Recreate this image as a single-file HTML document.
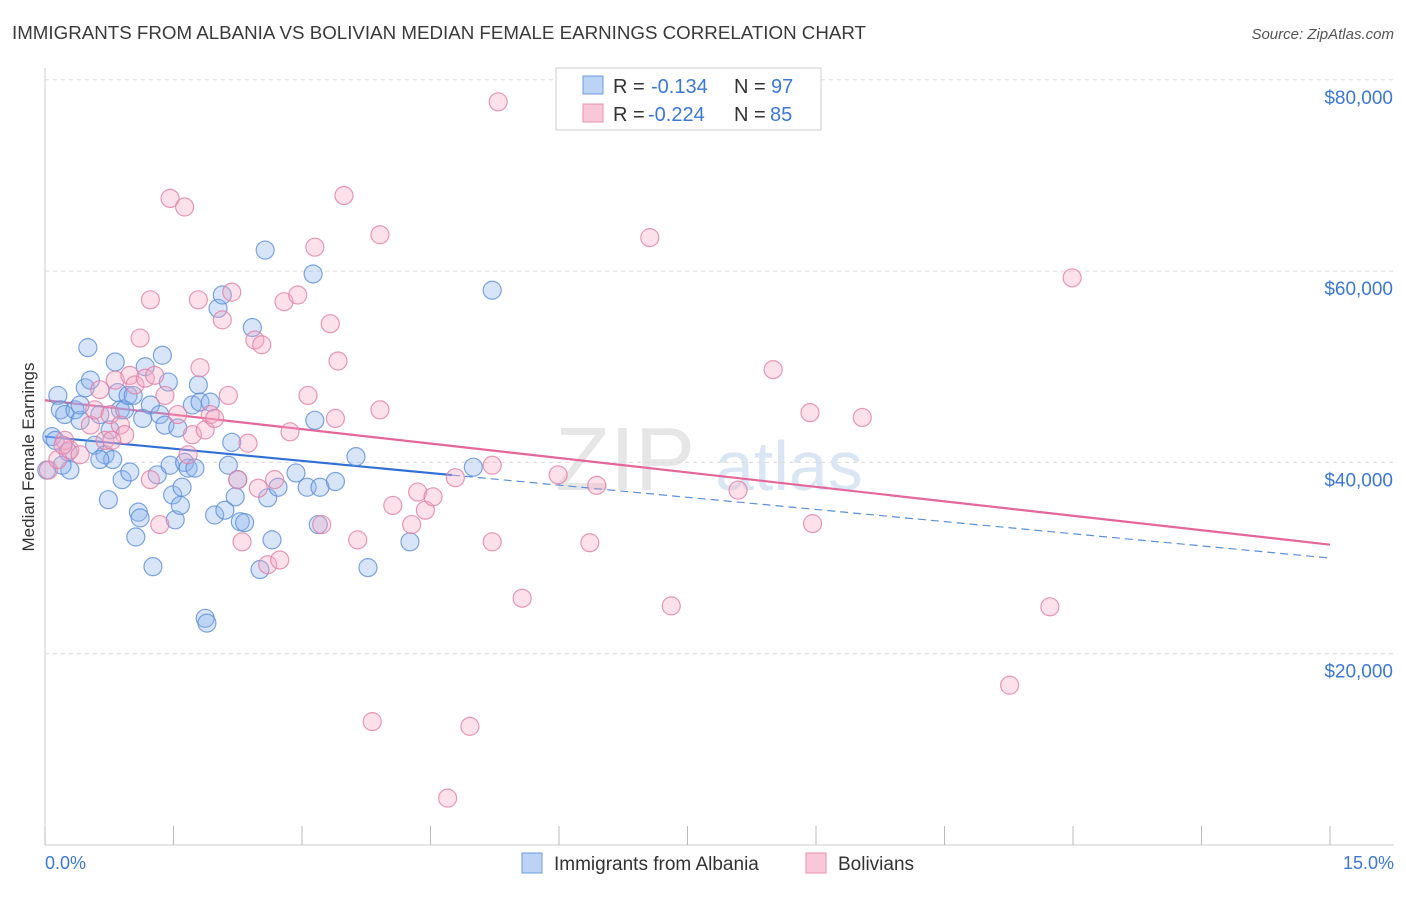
<!DOCTYPE html>
<html><head><meta charset="utf-8">
<style>
body{margin:0;background:#fff;font-family:"Liberation Sans",sans-serif;}
svg text{font-family:"Liberation Sans",sans-serif;}
</style></head>
<body>
<svg id="chart" width="1406" height="892" xmlns="http://www.w3.org/2000/svg">
<text x="12" y="39" font-size="18" fill="#3a3a3a" textLength="854" lengthAdjust="spacingAndGlyphs">IMMIGRANTS FROM ALBANIA VS BOLIVIAN MEDIAN FEMALE EARNINGS CORRELATION CHART</text>
<text x="1394" y="39" font-size="15" fill="#555" text-anchor="end" font-style="italic">Source: ZipAtlas.com</text>
<text x="555" y="490" font-size="90" fill="#e6e6e6" font-family="Liberation Serif">ZIP</text>
<text x="715" y="490" font-size="70" fill="#dbe6f4">atlas</text>
<g id="grid"></g>
<g id="axes"></g>
<g id="trends"></g>
<g id="points"></g>
<text transform="translate(34,457) rotate(-90)" font-size="17" fill="#333" text-anchor="middle">Median Female Earnings</text>
<text x="45" y="869" font-size="18" fill="#3b78d8">0.0%</text>
<text x="1394" y="869" font-size="18" fill="#3b78d8" text-anchor="end">15.0%</text>
<g>
<rect x="556" y="68" width="265" height="62" fill="#fff" stroke="#ccc"/>
<rect x="583" y="76" width="20" height="18" fill="#bcd3f5" stroke="#6d9be0"/>
<rect x="583" y="104" width="20" height="18" fill="#f9c8d8" stroke="#e890b0"/>
<text x="613" y="93" font-size="20" fill="#333">R =</text>
<text x="651" y="93" font-size="20" fill="#3b78d8">-0.134</text>
<text x="734" y="93" font-size="20" fill="#333">N =</text>
<text x="771" y="93" font-size="20" fill="#3b78d8">97</text>
<text x="613" y="121" font-size="20" fill="#333">R =</text>
<text x="648" y="121" font-size="20" fill="#3b78d8">-0.224</text>
<text x="734" y="121" font-size="20" fill="#333">N =</text>
<text x="770" y="121" font-size="20" fill="#3b78d8">85</text>
</g>
<g>
<rect x="522" y="853" width="20" height="20" fill="#bcd3f5" stroke="#6d9be0"/>
<text x="554" y="870" font-size="19" fill="#333">Immigrants from Albania</text>
<rect x="806" y="853" width="20" height="20" fill="#f9c8d8" stroke="#e890b0"/>
<text x="838" y="870" font-size="19" fill="#333">Bolivians</text>
</g>
</svg>
<script>
const yTicks=[20000,40000,60000,80000];
const yTickLabels=["$20,000","$40,000","$60,000","$80,000"];
const xTicks=[0,1.5,3,4.5,6,7.5,9,10.5,12,13.5,15];
const blueX=[0.15,0.18,0.08,0.12,0.23,0.29,0.20,0.35,0.41,0.47,0.50,0.53,0.58,0.64,0.70,0.74,0.76,0.79,0.82,0.85,0.88,0.90,0.93,0.97,0.99,1.03,1.06,1.09,1.11,1.14,1.17,1.23,1.26,1.31,1.34,1.37,1.40,1.44,1.46,1.49,1.52,1.55,1.58,1.60,1.63,1.67,1.72,1.75,1.79,1.81,1.87,1.89,1.93,1.98,2.02,2.07,2.10,2.14,2.18,2.22,2.25,2.28,2.33,2.42,2.51,2.57,2.60,2.65,2.72,2.93,3.06,3.13,3.15,3.19,3.21,3.39,3.63,3.77,4.26,5.00,5.22,0.41,0.27,0.64,0.02];
const blueY=[47.0,45.5,42.7,42.3,45.0,39.2,39.7,45.5,44.4,47.8,52.0,48.6,41.8,45.0,40.8,36.1,43.4,40.3,50.5,47.3,45.5,38.2,45.5,47.0,39.0,47.0,32.2,34.8,34.2,44.6,50.0,46.0,29.1,38.7,45.0,51.2,43.9,48.4,39.7,36.6,34.0,43.6,35.5,37.4,40.0,39.4,46.0,39.4,48.1,46.3,23.7,23.2,46.3,34.5,56.1,57.5,35.0,39.7,42.1,36.4,38.2,33.8,33.7,54.1,28.8,62.2,36.3,31.9,37.4,38.9,37.4,59.7,44.4,33.5,37.4,38.0,40.6,29.0,31.7,39.5,58.0,46.0,41.1,40.3,39.2];
const pinkX=[0.04,0.15,0.23,0.29,0.41,0.53,0.58,0.64,0.70,0.76,0.82,0.88,0.93,0.99,1.05,1.11,1.17,1.23,1.28,1.34,1.40,1.46,1.55,1.63,1.67,1.72,1.79,1.81,1.87,1.93,1.98,2.07,2.14,2.18,2.25,2.30,2.37,2.45,2.53,2.49,2.60,2.68,2.74,2.79,2.86,2.95,3.15,3.07,3.23,3.33,3.39,3.42,3.49,3.65,3.82,3.91,3.91,4.06,4.28,4.35,4.44,4.53,4.70,4.79,4.96,5.22,5.22,5.29,5.57,5.99,6.36,6.44,7.06,7.31,8.09,8.50,8.93,8.96,9.54,11.26,11.73,11.99,1.23,0.21,0.78];
const pinkY=[39.2,40.3,42.3,41.3,40.8,43.9,45.5,47.6,42.3,45.0,48.6,43.9,42.9,49.1,48.1,53.0,48.8,57.0,49.1,33.5,47.0,67.6,45.0,66.7,40.8,42.9,57.0,49.9,43.4,45.0,44.6,54.9,47.0,57.8,38.2,31.7,42.0,52.8,52.3,37.3,29.3,38.2,29.8,56.8,43.2,57.5,62.5,47.0,33.5,54.5,44.6,50.6,67.9,31.9,12.9,63.8,45.5,35.5,33.5,36.9,35.0,36.4,4.9,38.4,12.4,39.7,31.7,77.7,25.8,38.7,31.6,37.6,63.5,25.0,37.1,49.7,45.2,33.6,44.7,16.7,24.9,59.3,38.2,41.8,42.3];
const blueTrend=[42.7,30.0];
const pinkTrend=[46.5,31.4];
const blueSolidEnd=4.75;

const NS="http://www.w3.org/2000/svg";
const sx=v=>45+(v/15)*1285;
const sy=v=>845-(v/20000)*191.3;
const syk=v=>sy(v*1000);
function mk(tag,attrs,parent){const e=document.createElementNS(NS,tag);for(const k in attrs)e.setAttribute(k,attrs[k]);parent.appendChild(e);return e;}
const grid=document.getElementById('grid'),axes=document.getElementById('axes'),trends=document.getElementById('trends'),pts=document.getElementById('points');
yTicks.forEach((t,i)=>{
  const l=mk('line',{x1:45,y1:sy(t),x2:1394,y2:sy(t),stroke:'#dcdcdc','stroke-dasharray':'4,4'},grid);
  
  
  const tx=mk('text',{x:1393,y:sy(t)+24,'font-size':19,fill:'#3b78d8','text-anchor':'end'},axes);
  tx.textContent=yTickLabels[i];
  
  
});
const ya=mk('line',{x1:45,y1:68,x2:45,y2:845,stroke:'#ccc'},axes);


const xa=mk('line',{x1:45,y1:845,x2:1394,y2:845,stroke:'#ccc'},axes);


xTicks.forEach(t=>{
  const l=mk('line',{x1:sx(t),y1:826,x2:sx(t),y2:845,stroke:'#bbb'},axes);
  
  
});
function drawPts(X,Y,fill,stroke,name){
  X.forEach((x,i)=>{
    const c=mk('circle',{cx:sx(x),cy:syk(Y[i]),r:9,fill:fill,'fill-opacity':0.35,stroke:stroke,'stroke-width':1.2,'stroke-opacity':0.8},pts);
    
    
  });
}
drawPts(blueX,blueY,'#8fb5ee','#5b8fd9','albania-point');
drawPts(pinkX,pinkY,'#f5a9c4','#e27ea5','bolivian-point');
const bAt=x=>blueTrend[0]+(blueTrend[1]-blueTrend[0])*x/15;
const b1=mk('line',{x1:sx(0),y1:syk(bAt(0)),x2:sx(blueSolidEnd),y2:syk(bAt(blueSolidEnd)),stroke:'#2f6fd6','stroke-width':2.2},trends);


const b2=mk('line',{x1:sx(blueSolidEnd),y1:syk(bAt(blueSolidEnd)),x2:sx(15),y2:syk(bAt(15)),stroke:'#5b8fd9','stroke-width':1.2,'stroke-dasharray':'8,5'},trends);


const p1=mk('line',{x1:sx(0),y1:syk(pinkTrend[0]),x2:sx(15),y2:syk(pinkTrend[1]),stroke:'#e4669a','stroke-width':2.2},trends);


</script>
</body></html>
